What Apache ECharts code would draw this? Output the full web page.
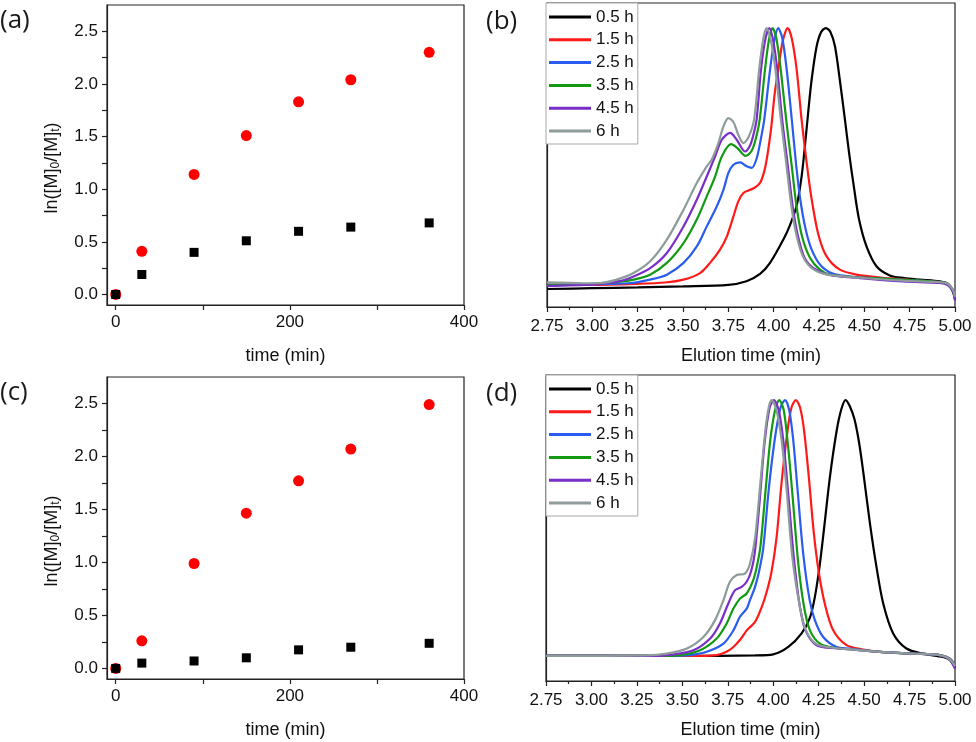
<!DOCTYPE html>
<html>
<head>
<meta charset="utf-8">
<script src="https://cdn.jsdelivr.net/npm/echarts@6/dist/echarts.min.js"></script>
<style>
html,body{margin:0;padding:0;background:#fff;}
#c{width:976px;height:742px;}
</style>
</head>
<body>
<div id="c"></div>
<script>
// ---------- Data ----------
const timeMin = [0, 30, 90, 150, 210, 270, 360];
const redA = [0, 0.41, 1.14, 1.51, 1.83, 2.04, 2.30];
const blackA = [0, 0.19, 0.40, 0.51, 0.60, 0.64, 0.68];
const redC = [0, 0.26, 0.99, 1.465, 1.77, 2.07, 2.49];
const blackC = [0, 0.05, 0.07, 0.10, 0.175, 0.20, 0.237];

const xTickLabelsA = [0, 200, 400];
const xTicksA = [0, 100, 200, 300, 400];
const yTickLabelsA = [0, 0.5, 1.0, 1.5, 2.0, 2.5];
const yTicksA = [0, 0.25, 0.5, 0.75, 1.0, 1.25, 1.5, 1.75, 2.0, 2.25, 2.5];

const legendLabels = ['0.5 h', '1.5 h', '2.5 h', '3.5 h', '4.5 h', '6 h'];

// panel (b): [elution time, normalized intensity]
const b05 = [[2.75,0.0],[3.0,0.003],[3.25,0.006],[3.5,0.01],[3.75,0.016],[3.85,0.03],[3.925,0.058],[3.98,0.10],[4.053,0.189],[4.09,0.245],[4.127,0.32],[4.154,0.431],[4.172,0.546],[4.19,0.674],[4.209,0.80],[4.237,0.93],[4.262,0.985],[4.288,1.0],[4.313,0.985],[4.338,0.93],[4.365,0.80],[4.393,0.649],[4.416,0.521],[4.442,0.393],[4.471,0.266],[4.512,0.163],[4.567,0.087],[4.64,0.052],[4.72,0.042],[4.806,0.036],[4.916,0.029],[4.953,0.023],[4.985,-0.005],[5.0,-0.04]];
const b15 = [[2.75,0.016],[3.0,0.016],[3.25,0.02],[3.4,0.025],[3.503,0.036],[3.594,0.061],[3.649,0.10],[3.704,0.151],[3.741,0.20],[3.778,0.278],[3.805,0.336],[3.833,0.368],[3.87,0.38],[3.9,0.39],[3.928,0.41],[3.956,0.475],[3.985,0.61],[4.005,0.745],[4.025,0.84],[4.05,0.95],[4.077,1.0],[4.1,0.96],[4.127,0.84],[4.154,0.649],[4.18,0.495],[4.207,0.355],[4.246,0.21],[4.292,0.125],[4.365,0.074],[4.457,0.055],[4.6,0.043],[4.7,0.038],[4.8,0.032],[4.916,0.026],[4.96,0.02],[4.99,-0.005],[5.0,-0.03]];
const b25 = [[2.75,0.016],[3.0,0.018],[3.2,0.022],[3.319,0.036],[3.411,0.055],[3.503,0.10],[3.576,0.163],[3.631,0.24],[3.686,0.316],[3.723,0.38],[3.75,0.444],[3.778,0.476],[3.815,0.485],[3.851,0.47],[3.879,0.464],[3.906,0.5],[3.928,0.57],[3.948,0.649],[3.98,0.84],[4.003,0.95],[4.025,1.0],[4.048,0.96],[4.072,0.84],[4.1,0.649],[4.123,0.483],[4.147,0.342],[4.177,0.227],[4.21,0.15],[4.26,0.09],[4.33,0.058],[4.45,0.046],[4.55,0.042],[4.7,0.036],[4.8,0.032],[4.916,0.026],[4.96,0.02],[4.99,-0.005],[5.0,-0.03]];
const b35 = [[2.75,0.016],[3.0,0.02],[3.15,0.028],[3.227,0.036],[3.319,0.055],[3.411,0.10],[3.503,0.176],[3.576,0.266],[3.631,0.355],[3.677,0.431],[3.714,0.508],[3.765,0.555],[3.8,0.54],[3.845,0.51],[3.879,0.53],[3.903,0.58],[3.923,0.649],[3.952,0.84],[3.975,0.96],[3.994,1.0],[4.015,0.96],[4.039,0.84],[4.069,0.649],[4.102,0.457],[4.126,0.316],[4.157,0.2],[4.2,0.12],[4.255,0.074],[4.31,0.055],[4.45,0.045],[4.55,0.042],[4.7,0.036],[4.8,0.032],[4.916,0.026],[4.96,0.02],[4.99,-0.008],[5.0,-0.035]];
const b45 = [[2.75,0.012],[3.0,0.018],[3.15,0.03],[3.227,0.048],[3.319,0.08],[3.411,0.138],[3.503,0.24],[3.576,0.342],[3.631,0.431],[3.677,0.508],[3.714,0.572],[3.76,0.598],[3.796,0.572],[3.842,0.527],[3.87,0.55],[3.888,0.59],[3.906,0.649],[3.93,0.84],[3.955,0.96],[3.976,1.0],[3.998,0.95],[4.02,0.84],[4.047,0.649],[4.075,0.49],[4.105,0.316],[4.135,0.2],[4.17,0.12],[4.22,0.08],[4.3,0.055],[4.475,0.042],[4.714,0.029],[4.916,0.023],[4.96,0.015],[4.99,-0.012],[5.0,-0.045]];
const b6 = [[2.75,0.025],[2.95,0.022],[3.044,0.023],[3.135,0.036],[3.227,0.061],[3.319,0.106],[3.411,0.189],[3.503,0.304],[3.576,0.406],[3.631,0.47],[3.658,0.495],[3.695,0.559],[3.723,0.623],[3.75,0.655],[3.778,0.64],[3.805,0.591],[3.833,0.559],[3.86,0.58],[3.892,0.649],[3.92,0.84],[3.943,0.96],[3.961,1.0],[3.985,0.95],[4.01,0.84],[4.04,0.649],[4.068,0.49],[4.098,0.316],[4.128,0.2],[4.165,0.12],[4.22,0.075],[4.3,0.055],[4.475,0.043],[4.714,0.032],[4.916,0.026],[4.96,0.02],[4.99,-0.005],[5.0,-0.03]];

// panel (d)
const d05 = [[2.75,0],[3.5,0],[3.9,0.002],[4.0,0.006],[4.083,0.035],[4.156,0.088],[4.202,0.15],[4.229,0.23],[4.255,0.35],[4.28,0.5],[4.312,0.7],[4.349,0.88],[4.375,0.965],[4.398,1.0],[4.422,0.975],[4.447,0.925],[4.472,0.835],[4.497,0.71],[4.532,0.518],[4.568,0.348],[4.605,0.205],[4.66,0.088],[4.733,0.029],[4.824,0.009],[4.934,-0.004],[4.97,-0.015],[5.0,-0.045]];
const d15 = [[2.75,0],[3.6,0],[3.689,0.003],[3.74,0.015],[3.781,0.035],[3.82,0.065],[3.854,0.1],[3.9,0.133],[3.936,0.19],[3.964,0.25],[3.991,0.33],[4.018,0.46],[4.045,0.67],[4.075,0.86],[4.1,0.97],[4.125,1.0],[4.148,0.97],[4.17,0.88],[4.197,0.69],[4.222,0.49],[4.25,0.33],[4.285,0.2],[4.33,0.1],[4.403,0.042],[4.495,0.025],[4.586,0.016],[4.769,0.009],[4.916,0.003],[4.97,-0.01],[5.0,-0.035]];
const d25 = [[2.75,0],[3.45,0],[3.543,0.003],[3.634,0.016],[3.726,0.048],[3.781,0.1],[3.817,0.153],[3.854,0.185],[3.872,0.218],[3.9,0.27],[3.922,0.33],[3.945,0.42],[3.975,0.648],[4.008,0.844],[4.04,0.97],[4.065,1.0],[4.088,0.96],[4.11,0.844],[4.135,0.64],[4.165,0.4],[4.2,0.22],[4.229,0.14],[4.275,0.074],[4.349,0.035],[4.45,0.027],[4.586,0.016],[4.769,0.009],[4.916,0.003],[4.97,-0.01],[5.0,-0.035]];
const d35 = [[2.75,0],[3.4,0],[3.49,0.003],[3.598,0.022],[3.689,0.068],[3.744,0.127],[3.781,0.185],[3.817,0.224],[3.854,0.244],[3.89,0.296],[3.91,0.35],[3.93,0.43],[3.958,0.648],[3.984,0.844],[4.01,0.96],[4.033,1.0],[4.058,0.96],[4.083,0.81],[4.107,0.62],[4.138,0.36],[4.17,0.19],[4.202,0.1],[4.257,0.048],[4.35,0.03],[4.45,0.025],[4.586,0.016],[4.769,0.009],[4.916,0.003],[4.97,-0.012],[5.0,-0.04]];
const d45 = [[2.75,0],[3.35,0],[3.434,0.004],[3.561,0.022],[3.653,0.068],[3.707,0.127],[3.753,0.205],[3.79,0.257],[3.826,0.27],[3.854,0.29],[3.878,0.33],[3.898,0.4],[3.927,0.62],[3.952,0.83],[3.98,0.97],[4.004,1.0],[4.03,0.96],[4.055,0.844],[4.083,0.63],[4.113,0.387],[4.145,0.2],[4.178,0.1],[4.239,0.042],[4.35,0.03],[4.45,0.025],[4.586,0.016],[4.769,0.009],[4.916,0.003],[4.97,-0.015],[5.0,-0.05]];
const d6 = [[2.75,0],[3.3,0.002],[3.415,0.009],[3.525,0.029],[3.616,0.074],[3.68,0.14],[3.726,0.218],[3.762,0.29],[3.799,0.316],[3.845,0.322],[3.872,0.36],[3.9,0.46],[3.93,0.68],[3.955,0.87],[3.975,0.97],[3.991,1.0],[4.018,0.96],[4.046,0.844],[4.074,0.648],[4.105,0.387],[4.147,0.19],[4.18,0.1],[4.24,0.045],[4.35,0.03],[4.45,0.025],[4.586,0.016],[4.769,0.009],[4.916,0.003],[4.97,-0.012],[5.0,-0.04]];

const curveColors = ['#000000', '#ff1a1a', '#2a5cf0', '#139a13', '#7a2ec8', '#8d9b9b'];
const curvesB = [b05, b15, b25, b35, b45, b6];
const curvesD = [d05, d15, d25, d35, d45, d6];

// ---------- Chart ----------
const FONT = "'Liberation Sans', Arial, sans-serif";
const AX = '#222';
const chart = echarts.init(document.getElementById('c'));

const pair = (xs, ys) => xs.map((x, i) => [x, ys[i]]);

function kineticX(idx) {
  return {
    gridIndex: idx, type: 'value', min: -10, max: 400,
    name: 'time (min)', nameLocation: 'middle', nameGap: 42,
    nameTextStyle: { fontFamily: FONT, fontSize: 18, color: '#111' },
    axisLine: { onZero: false, lineStyle: { color: AX, width: 1.2 } },
    axisTick: { customValues: xTicksA, length: 5, lineStyle: { color: AX, width: 1.2 } },
    axisLabel: { customValues: xTickLabelsA, margin: 9, fontFamily: FONT, fontSize: 17, color: '#111' },
    splitLine: { show: false }
  };
}
function kineticY(idx) {
  return {
    gridIndex: idx, type: 'value', min: -0.1, max: 2.75,
    axisLine: { onZero: false, lineStyle: { color: AX, width: 1.2 } },
    axisTick: { customValues: yTicksA, length: 5, lineStyle: { color: AX, width: 1.2 } },
    axisLabel: { customValues: yTickLabelsA, margin: 9, fontFamily: FONT, fontSize: 17, color: '#111',
      formatter: v => v.toFixed(1) },
    splitLine: { show: false }
  };
}
function gpcX(idx) {
  return {
    gridIndex: idx, type: 'value', min: 2.75, max: 5.0, interval: 0.25,
    name: 'Elution time (min)', nameLocation: 'middle', nameGap: 40,
    nameTextStyle: { fontFamily: FONT, fontSize: 18, color: '#111' },
    axisLine: { onZero: false, lineStyle: { color: AX, width: 1.2 } },
    axisTick: { length: 5, lineStyle: { color: AX, width: 1.2 } },
    minorTick: { show: true, splitNumber: 2, length: 3, lineStyle: { color: AX, width: 1.2 } },
    axisLabel: { margin: 11, fontFamily: FONT, fontSize: 17, color: '#111', formatter: v => v.toFixed(2) },
    splitLine: { show: false }, minorSplitLine: { show: false }
  };
}
function gpcY(idx, mn, mx) {
  return {
    gridIndex: idx, type: 'value', min: mn, max: mx,
    axisLine: { onZero: false, lineStyle: { color: AX, width: 1.2 } },
    axisTick: { show: false }, axisLabel: { show: false }, splitLine: { show: false }
  };
}
function gpcLegend(top) {
  return {
    left: 546, top: top, orient: 'vertical',
    data: legendLabels,
    icon: 'rect',
    itemWidth: 42, itemHeight: 3, itemGap: 2.8,
    padding: [4, 4, 3, 3],
    borderColor: '#a8a8a8', borderWidth: 1, backgroundColor: '#fff',
    textStyle: { fontFamily: FONT, fontSize: 17, color: '#111', lineHeight: 20 },
    selectedMode: false
  };
}

const series = [];
const dot = (c) => ({ color: c, opacity: 1 });
series.push({ type: 'scatter', xAxisIndex: 0, yAxisIndex: 0, data: pair(timeMin, redA), symbol: 'circle', symbolSize: 11, itemStyle: dot('#ff0000') });
series.push({ type: 'scatter', xAxisIndex: 0, yAxisIndex: 0, data: pair(timeMin, blackA), symbol: 'rect', symbolSize: 9, itemStyle: dot('#000') });
series.push({ type: 'scatter', xAxisIndex: 2, yAxisIndex: 2, data: pair(timeMin, redC), symbol: 'circle', symbolSize: 11, itemStyle: dot('#ff0000') });
series.push({ type: 'scatter', xAxisIndex: 2, yAxisIndex: 2, data: pair(timeMin, blackC), symbol: 'rect', symbolSize: 9, itemStyle: dot('#000') });
curvesB.forEach((c, i) => series.push({
  type: 'line', name: legendLabels[i], xAxisIndex: 1, yAxisIndex: 1, data: c,
  symbol: 'none', smooth: 0.3,
  lineStyle: { color: curveColors[i], width: 2.2 }, itemStyle: { color: curveColors[i] }
}));
curvesD.forEach((c, i) => series.push({
  type: 'line', name: legendLabels[i], xAxisIndex: 3, yAxisIndex: 3, data: c,
  symbol: 'none', smooth: 0.3,
  lineStyle: { color: curveColors[i], width: 2.2 }, itemStyle: { color: curveColors[i] }
}));

const gridStyle = { show: true, borderColor: AX, borderWidth: 1.2, backgroundColor: 'transparent' };
const panelText = (txt, x, y) => ({
  type: 'text', left: x, top: y,
  style: { text: txt, fontFamily: "'Open Sans', sans-serif", fontSize: 26, fill: '#1a1a1a' }
});
const yTitle = (cx, cy) => ({
  type: 'text', x: cx, y: cy, rotation: Math.PI / 2,
  style: {
    text: '{n|ln([M]}{s|0}{n|/[M]}{s|t}{n|)}',
    align: 'center', verticalAlign: 'middle',
    rich: {
      n: { fontFamily: FONT, fontSize: 18, lineHeight: 20, fill: '#111' },
      s: { fontFamily: FONT, fontSize: 12, lineHeight: 11, verticalAlign: 'bottom', fill: '#111' }
    }
  }
});

chart.setOption({
  animation: false,
  backgroundColor: '#fff',
  grid: [
    Object.assign({ left: 107, top: 5, width: 357, height: 300 }, gridStyle),
    Object.assign({ left: 547, top: 3, width: 408, height: 304 }, gridStyle),
    Object.assign({ left: 107, top: 377, width: 357, height: 302 }, gridStyle),
    Object.assign({ left: 546, top: 375, width: 409, height: 306 }, gridStyle)
  ],
  xAxis: [kineticX(0), gpcX(1), kineticX(2), gpcX(3)],
  yAxis: [kineticY(0), gpcY(1, -0.069, 1.096), kineticY(2), gpcY(3, -0.098, 1.098)],
  legend: [gpcLegend(3), gpcLegend(375)],
  graphic: [
    panelText('(a)', 0, 8),
    panelText('(b)', 486, 9),
    panelText('(c)', 0, 380),
    panelText('(d)', 486, 381),
    yTitle(52, 168),
    yTitle(52, 541)
  ],
  series: series
});
</script>
</body>
</html>
